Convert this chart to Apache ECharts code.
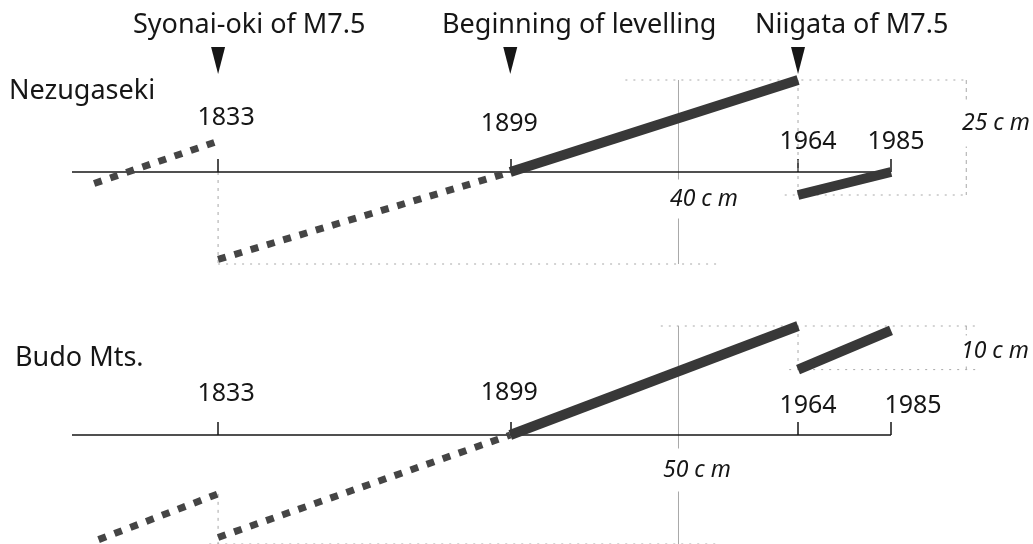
<!DOCTYPE html>
<html>
<head>
<meta charset="utf-8">
<script src="https://cdn.jsdelivr.net/npm/echarts@6/dist/echarts.min.js"></script>
<style>
  html, body { margin: 0; padding: 0; background: #fff; }
  #chart { width: 1033px; height: 544px; }
</style>
</head>
<body>
<div id="chart"></div>
<script>
// ---- data -------------------------------------------------------------
// Years marked on both time axes; the time line runs from 1800 to 1985
const tickYears = [1833, 1899, 1964, 1985];
const timeSpan = [1800, 1985];
// Events flagged across the top
const eventYears = [1833, 1899, 1964];
const eventNames = ['Syonai-oki of M7.5', 'Beginning of levelling', 'Niigata of M7.5'];
const stationNames = ['Nezugaseki', 'Budo Mts.'];

// Nezugaseki, relative height in cm: [year, cm]
const nezuPre1833 = [[1805, -2.5], [1833, 6.7]];
const nezu1833to1899 = [[1833, -19], [1899, 0]];
const nezu1899to1964 = [[1899, 0], [1964, 20]];
const nezu1964to1985 = [[1964, -5], [1985, 0]];

// Budo Mts., relative height in cm: [year, cm]
const budoPre1833 = [[1806, -24], [1833, -13.5]];
const budo1833to1899 = [[1833, -23.5], [1899, 0]];
const budo1899to1964 = [[1899, 0], [1964, 25]];
const budo1964to1985 = [[1964, 15], [1985, 24]];

// Measured spans, [upper cm, lower cm]
const nezuLongSpan = [20, -20];
const nezuShortSpan = [20, -5];
const budoLongSpan = [25, -25];
const budoShortSpan = [25, 15];

// ---- layout / style ---------------------------------------------------
const FONT = '"Noto Sans", "DejaVu Sans", sans-serif';
const INK = '#161616';
const GUIDE_COLOR = '#a8a8a8';
const X_MIN = 1800, X_MAX = 2010, PX_PER_YEAR = 4.427;
const Y_MIN = -30, Y_MAX = 30;
const GRIDS = [
  { left: 72, top: 34, height: 276 },      // 4.6 px per cm
  { left: 72, top: 304.2, height: 261.6 }  // 4.36 px per cm
];
const TICK_LEN = 13;

// horizontal extent (in years) of the thin guide lines of each panel
const GUIDE_X = [
  { topFrom: 1925, shortFrom: 1961, lowFrom: 1833, lowTo: 1946, longX: 1937, shortX: 2002, rightEnd: 2002 },
  { topFrom: 1933, shortFrom: 1962, lowFrom: 1831, lowTo: 1946, longX: 1937, shortX: 2002, rightEnd: 2005 }
];

// year label placement per panel: [dx, height of label centre above the axis]
const YEAR_LABEL_POS = [
  { 1833: [8, 55], 1899: [-1, 49], 1964: [10, 31], 1985: [5, 31] },
  { 1833: [8, 42], 1899: [-1, 43], 1964: [10, 30], 1985: [22, 30] }
];

function yearRich(panel) {
  const rich = {};
  tickYears.forEach(y => {
    const [dx, rise] = YEAR_LABEL_POS[panel][y];
    // labels sit centred just past the tick; bottom padding raises them further
    const lift = Math.max(0, 2 * (rise - TICK_LEN - 0.5));
    rich['y' + y] = {
      fontFamily: FONT, fontSize: 25, lineHeight: 25, color: INK,
      padding: [0, dx < 0 ? -2 * dx : 0, lift, dx > 0 ? 2 * dx : 0]
    };
  });
  return rich;
}

function xAxisFor(panel) {
  const g = GRIDS[panel];
  // lift the axis from the grid bottom up to the 0 cm level
  const zeroOffset = -g.height * (0 - Y_MIN) / (Y_MAX - Y_MIN);
  return {
    gridIndex: panel, type: 'value', min: X_MIN, max: X_MAX,
    position: 'bottom', offset: zeroOffset,
    splitLine: { show: false },
    axisLine: { show: false, onZero: false },
    axisTick: { show: true, inside: true, length: TICK_LEN, customValues: tickYears,
                lineStyle: { color: INK, width: 1.5 } },
    axisLabel: { show: true, inside: true, margin: 0, customValues: tickYears,
                 verticalAlign: 'bottom', align: 'center',
                 formatter: v => '{y' + v + '|' + v + '}', rich: yearRich(panel) }
  };
}

function segment(panel, data, dotted) {
  return {
    type: 'line', xAxisIndex: panel, yAxisIndex: panel, data,
    symbol: 'none', silent: true, z: 5, clip: false,
    lineStyle: dotted
      ? { color: '#454545', width: 7, type: [8, 9], cap: 'butt' }
      : { color: '#383838', width: 10, cap: 'butt' }
  };
}

function baseline(panel) {
  return {
    type: 'line', xAxisIndex: panel, yAxisIndex: panel,
    data: [[timeSpan[0], 0], [timeSpan[1], 0]],
    symbol: 'none', silent: true, z: 3,
    lineStyle: { color: INK, width: 1.5 }
  };
}

function guide(panel, data, type) {
  return {
    type: 'line', xAxisIndex: panel, yAxisIndex: panel, data,
    symbol: 'none', silent: true, z: 1, clip: false,
    lineStyle: { color: GUIDE_COLOR, width: 1, type: type || [2, 6] }
  };
}

function guidesFor(panel, longSpan, shortSpan, quakeDrop1833, quake1964) {
  const g = GUIDE_X[panel];
  return [
    guide(panel, [[g.topFrom, longSpan[0]], [g.rightEnd, longSpan[0]]]),
    guide(panel, [[g.shortFrom, shortSpan[1]], [g.rightEnd, shortSpan[1]]]),
    guide(panel, [[g.lowFrom, longSpan[1]], [g.lowTo, longSpan[1]]]),
    guide(panel, [[g.longX, longSpan[0]], [g.longX, longSpan[1]]], 'solid'),
    guide(panel, [[g.shortX, shortSpan[0]], [g.shortX, shortSpan[1]]], [4, 4]),
    guide(panel, quakeDrop1833, [3, 5]),
    guide(panel, quake1964, [3, 5])
  ];
}

const chart = echarts.init(document.getElementById('chart'), null, { renderer: 'canvas' });

const option = {
  backgroundColor: '#fff',
  animation: false,
  grid: GRIDS.map(g => ({ left: g.left, top: g.top, height: g.height,
                          width: (X_MAX - X_MIN) * PX_PER_YEAR,
                          containLabel: false, outerBoundsMode: 'none' })),
  xAxis: [xAxisFor(0), xAxisFor(1)],
  yAxis: [0, 1].map(i => ({ gridIndex: i, type: 'value', min: Y_MIN, max: Y_MAX,
                             show: false, splitLine: { show: false } })),
  series: [
    ...guidesFor(0, nezuLongSpan, nezuShortSpan,
      [[1833, 0], [1833, nezuLongSpan[1]]],
      [[1964, nezu1899to1964[1][1]], [1964, nezu1964to1985[0][1]]]),
    ...guidesFor(1, budoLongSpan, budoShortSpan,
      [[1833, budoPre1833[1][1]], [1833, budoLongSpan[1]]],
      [[1964, budo1899to1964[1][1]], [1964, budo1964to1985[0][1]]]),
    baseline(0),
    baseline(1),
    segment(0, nezuPre1833, true),
    segment(0, nezu1833to1899, true),
    segment(0, nezu1899to1964, false),
    segment(0, nezu1964to1985, false),
    segment(1, budoPre1833, true),
    segment(1, budo1833to1899, true),
    segment(1, budo1899to1964, false),
    segment(1, budo1964to1985, false)
  ]
};
chart.setOption(option);

// ---- text and event markers ------------------------------------------
function text(str, x, y, opts) {
  const o = opts || {};
  const style = {
    text: str, x: 0, y: 0,
    font: (o.italic ? 'italic ' : '') + (o.size || 27) + 'px ' + FONT,
    fill: INK,
    textAlign: 'left', align: 'left',
    textVerticalAlign: 'middle', verticalAlign: 'middle'
  };
  if (o.bg) {
    style.backgroundColor = '#fff'; style.textBackgroundColor = '#fff';
    style.padding = o.pad; style.textPadding = o.pad;
  }
  return { type: 'text', x, y, z: 20, silent: true, style };
}

const spanLabel = s => (s[0] - s[1]) + ' c m';

const graphics = [];
eventYears.forEach(y => {
  const px = chart.convertToPixel({ gridIndex: 0 }, [y, 0])[0];
  graphics.push({
    type: 'polygon', z: 20, silent: true,
    shape: { points: [[px - 7, 47], [px + 7, 47], [px, 74]] },
    style: { fill: INK }
  });
});
const titleX = [133, 442, 755];
eventNames.forEach((n, i) => graphics.push(text(n, titleX[i], 25)));
graphics.push(text(stationNames[0], 9, 91));
graphics.push(text(stationNames[1], 15, 358));
graphics.push(text(spanLabel(nezuShortSpan), 960, 123, { italic: true, size: 23, bg: true, pad: [12, 2] }));
graphics.push(text(spanLabel(nezuLongSpan), 668, 199, { italic: true, size: 23, bg: true, pad: [8, 2] }));
graphics.push(text(spanLabel(budoShortSpan), 959, 351, { italic: true, size: 23, bg: true, pad: [4, 2] }));
graphics.push(text(spanLabel(budoLongSpan), 661, 470, { italic: true, size: 23, bg: true, pad: [10, 2] }));

chart.setOption({ graphic: graphics });
</script>
</body>
</html>
